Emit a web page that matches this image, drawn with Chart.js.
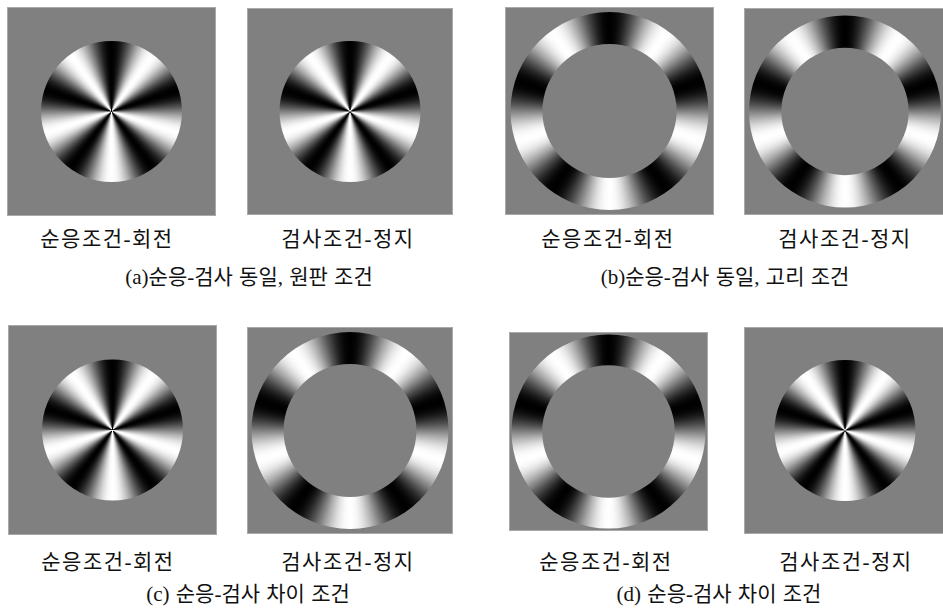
<!DOCTYPE html>
<html lang="ko">
<head>
<meta charset="utf-8">
<script src="https://cdn.jsdelivr.net/npm/chart.js@4/dist/chart.umd.min.js"></script>
<style>
  html, body { margin: 0; padding: 0; background: #fff; }
  body { width: 943px; height: 612px; position: relative; overflow: hidden; }
  canvas { position: absolute; }
  .txt {
    position: absolute; width: 400px; text-align: center; white-space: nowrap;
    font-family: "Liberation Serif", "Noto Sans CJK KR", serif;
    font-size: 21px; line-height: 24px; color: #111;
  }
  .lab { letter-spacing: 1.5px; }
  .cap { word-spacing: 1px; }
</style>
</head>
<body>
<script>
const stimulusLabels = ['순응조건-회전', '검사조건-정지'];
const captions = [
  '(a)순응-검사 동일, 원판 조건',
  '(b)순응-검사 동일, 고리 조건',
  '(c) 순응-검사 차이 조건',
  '(d) 순응-검사 차이 조건',
];
// adaptation / test stimulus shape for each condition
const stimulusShapes = [
  ['disc', 'disc'],
  ['ring', 'ring'],
  ['disc', 'ring'],
  ['ring', 'disc'],
];
const gratingCycles = 5;     // dark/light periods around the circle
const sliceValues = [1];     // one slice covering the full turn

const bgGray = '#808080';

// gray square behind each stimulus
const grayBackground = {
  id: 'grayBackground',
  beforeDraw(chart) {
    const { ctx, width, height } = chart;
    ctx.save();
    ctx.fillStyle = bgGray;
    ctx.fillRect(0, 0, width, height);
    ctx.strokeStyle = '#a9a9a9';
    ctx.lineWidth = 1;
    ctx.strokeRect(0.5, 0.5, width - 1, height - 1);
    ctx.restore();
  },
};

// radial (pinwheel) grating: luminance varies sinusoidally with angle
function gratingFill(context) {
  const chart = context.chart;
  const area = chart.chartArea;
  if (!area) return bgGray;
  const cx = (area.left + area.right) / 2;
  const cy = (area.top + area.bottom) / 2;
  const g = chart.ctx.createConicGradient(-Math.PI / 2, cx, cy);
  const steps = 200;
  for (let i = 0; i <= steps; i++) {
    const t = i / steps;
    const v = Math.round(255 * (0.5 - 0.5 * Math.cos(2 * Math.PI * gratingCycles * t)));
    g.addColorStop(t, `rgb(${v},${v},${v})`);
  }
  return g;
}

// x, y, w, h of each gray square and the stimulus radii
const panels = [
  { x: 7, y: 7, w: 209, h: 209, outer: 70.5, inner: 0 },
  { x: 247, y: 8, w: 206, h: 207, outer: 70.5, inner: 0 },
  { x: 505, y: 7, w: 209, h: 208, outer: 99, inner: 70.5 },
  { x: 744, y: 8, w: 202, h: 207, outer: 96, inner: 67 },
  { x: 8, y: 325, w: 209, h: 210, outer: 70.5, inner: 0 },
  { x: 247, y: 327, w: 206, h: 207, outer: 98.5, inner: 69.5 },
  { x: 509, y: 332, w: 199, h: 199, outer: 97, inner: 68 },
  { x: 744, y: 327, w: 202, h: 207, outer: 70.5, inner: 0 },
];

const labelPos = [
  [107, 239], [348, 239], [608, 239], [845, 239],
  [108, 562], [348, 562], [606, 562], [846, 562],
];
const captionPos = [[249, 277], [725, 277], [248, 594], [719, 594]];

function addText(text, cls, pos) {
  const d = document.createElement('div');
  d.className = 'txt ' + cls;
  d.textContent = text;
  d.style.left = (pos[0] - 200) + 'px';
  d.style.top = (pos[1] - 12) + 'px';
  document.body.appendChild(d);
}

panels.forEach((p, i) => {
  const shape = stimulusShapes[Math.floor(i / 2)][i % 2];
  const canvas = document.createElement('canvas');
  canvas.width = p.w;
  canvas.height = p.h;
  canvas.style.left = p.x + 'px';
  canvas.style.top = p.y + 'px';
  document.body.appendChild(canvas);

  new Chart(canvas, {
    type: 'doughnut',
    data: {
      labels: [shape],
      datasets: [{
        data: sliceValues,
        backgroundColor: gratingFill,
        borderWidth: 0,
      }],
    },
    options: {
      responsive: false,
      animation: false,
      events: [],
      radius: p.outer,
      cutout: shape === 'ring' ? p.inner : 0,
      layout: { padding: 0 },
      plugins: {
        legend: { display: false },
        tooltip: { enabled: false },
      },
    },
    plugins: [grayBackground],
  });

  addText(stimulusLabels[i % 2], 'lab', labelPos[i]);
});

captions.forEach((c, i) => addText(c, 'cap', captionPos[i]));
</script>
</body>
</html>
